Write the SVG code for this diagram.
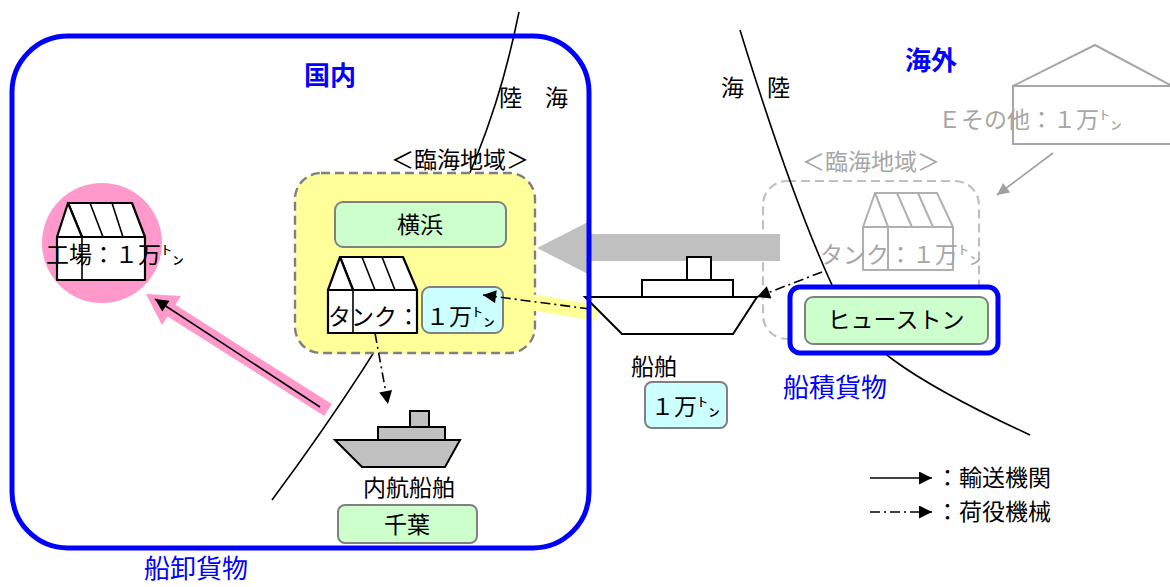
<svg xmlns="http://www.w3.org/2000/svg" width="1170" height="587" viewBox="0 0 1170 587">
<defs>
<style>
text{font-family:"Noto Sans CJK JP","Noto Sans",sans-serif;font-size:23px;fill:#000}
.blue{fill:#0000ff;font-size:26px}
.b{font-weight:bold}
.gray{fill:#a6a6a6}
.mid{text-anchor:middle}
.ln{stroke:#000;stroke-width:1.6;fill:none}
.dd{stroke:#000;stroke-width:1.6;fill:none;stroke-dasharray:10 4 2 4}
.bldg{fill:#fff;stroke:#000;stroke-width:2.2;stroke-linejoin:round}
.gbldg{fill:#fff;stroke:#b0b0b0;stroke-width:2;stroke-linejoin:round}
.green{fill:#ccffcc;stroke:#808080;stroke-width:2}
.cyan{fill:#ccffff;stroke:#808080;stroke-width:2}
</style>
<marker id="ah" viewBox="0 0 10 10" refX="10" refY="5" markerUnits="userSpaceOnUse" markerWidth="16" markerHeight="13" orient="auto"><path d="M0,0L10,5L0,10z" fill="#000"/></marker>
<marker id="gah" viewBox="0 0 10 10" refX="10" refY="5" markerUnits="userSpaceOnUse" markerWidth="14" markerHeight="12" orient="auto"><path d="M0,0L10,5L0,10z" fill="#a0a0a0"/></marker>
</defs>
<rect width="1170" height="587" fill="#fff"/>

<g id="factory">
<circle cx="102" cy="243" r="60" fill="#ff99cc"/>
<polygon class="bldg" points="68,203 132,203 145,237 82,237"/>
<polygon class="bldg" points="57,237 68,203 82,237"/>
<line class="ln" x1="90" y1="203" x2="103" y2="237"/>
<line class="ln" x1="112" y1="203" x2="123" y2="237"/>
<rect class="bldg" x="57" y="237" width="88" height="43"/>
<line class="ln" x1="82" y1="237" x2="82" y2="280"/>
<text x="46" y="263">工場：１万㌧</text>
</g>

<g id="overseas-area">
<rect x="763" y="181" width="216" height="158" rx="24" fill="none" stroke="#c0c0c0" stroke-width="2.2" stroke-dasharray="9 5"/>
<text class="gray mid" x="871" y="170">＜臨海地域＞</text>
<g id="overseas-tank">
<polygon class="gbldg" points="875,193 937,193 953,227 888,227"/>
<polygon class="gbldg" points="863,227 875,193 888,227"/>
<line x1="897" y1="193" x2="912" y2="227" stroke="#b0b0b0" stroke-width="2"/>
<line x1="918" y1="193" x2="933" y2="227" stroke="#b0b0b0" stroke-width="2"/>
<rect class="gbldg" x="863" y="227" width="90" height="43"/>
<line x1="888" y1="227" x2="888" y2="270" stroke="#b0b0b0" stroke-width="2"/>
<text class="gray" x="820" y="263">タンク：１万㌧</text>
</g>
</g>

<g id="other">
<polyline points="1013,86 1095,45 1172,86" fill="none" stroke="#a6a6a6" stroke-width="2"/>
<rect x="1013" y="86" width="170" height="58" fill="none" stroke="#a6a6a6" stroke-width="2"/>
<text class="gray" x="938" y="128">Ｅその他：１万㌧</text>
</g>

<g id="coastlines">
<path class="ln" d="M519,12 C495,130 450,260 272,500"/>
<path class="ln" d="M740,30 C760,95 800,220 840,302 C860,340 900,375 1030,435"/>
</g>

<g id="yokohama-area">
<rect x="295" y="173" width="240" height="180" rx="26" fill="#ffff99" stroke="#808080" stroke-width="2.4" stroke-dasharray="9 5"/>
<text class="mid" x="460" y="168">＜臨海地域＞</text>
</g>
<line x1="530" y1="302" x2="597" y2="313" stroke="#ffff99" stroke-width="16"/>

<g id="yokohama">
<rect class="green" x="335" y="202" width="171" height="45" rx="8"/>
<text class="mid" x="420" y="233">横浜</text>
</g>

<g id="tank">
<polygon class="bldg" points="340,257 403,257 417,290 353,290"/>
<polygon class="bldg" points="328,290 340,257 353,290"/>
<line class="ln" x1="362" y1="257" x2="375" y2="290"/>
<line class="ln" x1="382" y1="257" x2="395" y2="290"/>
<rect class="bldg" x="328" y="290" width="89" height="43"/>
<line class="ln" x1="353" y1="290" x2="353" y2="333"/>
<text x="328" y="325">タンク：</text>
<rect class="cyan" x="422" y="287" width="81" height="46" rx="8"/>
<text x="426" y="325">１万㌧</text>
</g>

<polygon id="cargo-flow" points="780,234 588,234 588,222 537,248 588,274 588,261 780,261" fill="#c0c0c0"/>

<g id="ship">
<polygon points="585,297 757,297 733,334 622,334" fill="#fff" stroke="#000" stroke-width="2"/>
<rect x="642" y="280" width="91" height="17" fill="#fff" stroke="#000" stroke-width="2"/>
<rect x="687" y="257" width="24" height="23" fill="#fff" stroke="#000" stroke-width="2"/>
<text class="mid" x="654" y="375">船舶</text>
<rect class="cyan" x="645" y="382" width="82" height="46" rx="7"/>
<text x="651" y="415">１万㌧</text>
</g>

<g id="coastal-ship">
<polygon points="335,440 460,440 445,467 362,467" fill="#c0c0c0" stroke="#000" stroke-width="2"/>
<rect x="378" y="427" width="67" height="13" fill="#c0c0c0" stroke="#000" stroke-width="2"/>
<rect x="410" y="411" width="19" height="16" fill="#c0c0c0" stroke="#000" stroke-width="2"/>
<text class="mid" x="409" y="496">内航船舶</text>
</g>

<g id="chiba">
<rect class="green" x="338" y="505" width="139" height="38" rx="7"/>
<text class="mid" x="407" y="533">千葉</text>
</g>

<g id="connectors">
<line x1="328" y1="410" x2="169" y2="309" stroke="#ff99cc" stroke-width="14"/>
<polygon points="146,294 181,296 162,325" fill="#ff99cc"/>
<line class="ln" x1="320" y1="407" x2="155" y2="299" marker-end="url(#ah)"/>
<line class="dd" x1="590" y1="309" x2="483" y2="295" marker-end="url(#ah)"/>
<line class="dd" x1="822" y1="272" x2="757" y2="297" marker-end="url(#ah)"/>
<line class="dd" x1="375" y1="333" x2="388" y2="404" marker-end="url(#ah)"/>
<line x1="1053" y1="153" x2="997" y2="195" stroke="#a0a0a0" stroke-width="1.6" marker-end="url(#gah)"/>
</g>

<g id="domestic">
<rect x="12" y="36" width="577" height="512" rx="56" fill="none" stroke="#0000ff" stroke-width="5"/>
<text class="blue b mid" x="330" y="85">国内</text>
<text class="blue mid" x="196" y="578">船卸貨物</text>
</g>

<g id="houston">
<rect x="790" y="287" width="208" height="66" rx="10" fill="#fff" stroke="#0000ff" stroke-width="5"/>
<rect class="green" x="805" y="297" width="183" height="47" rx="8"/>
<text class="mid" x="896" y="328">ヒューストン</text>
<text class="blue mid" x="835" y="397">船積貨物</text>
</g>

<g id="labels">
<text class="blue b mid" x="931" y="70">海外</text>
<text x="499" y="106">陸　海</text>
<text x="721" y="96">海　陸</text>
</g>

<g id="legend">
<line class="ln" x1="870" y1="478" x2="932" y2="478" marker-end="url(#ah)"/>
<text x="936" y="486">：輸送機関</text>
<line class="dd" x1="870" y1="512" x2="932" y2="512" marker-end="url(#ah)"/>
<text x="936" y="520">：荷役機械</text>
</g>
</svg>
